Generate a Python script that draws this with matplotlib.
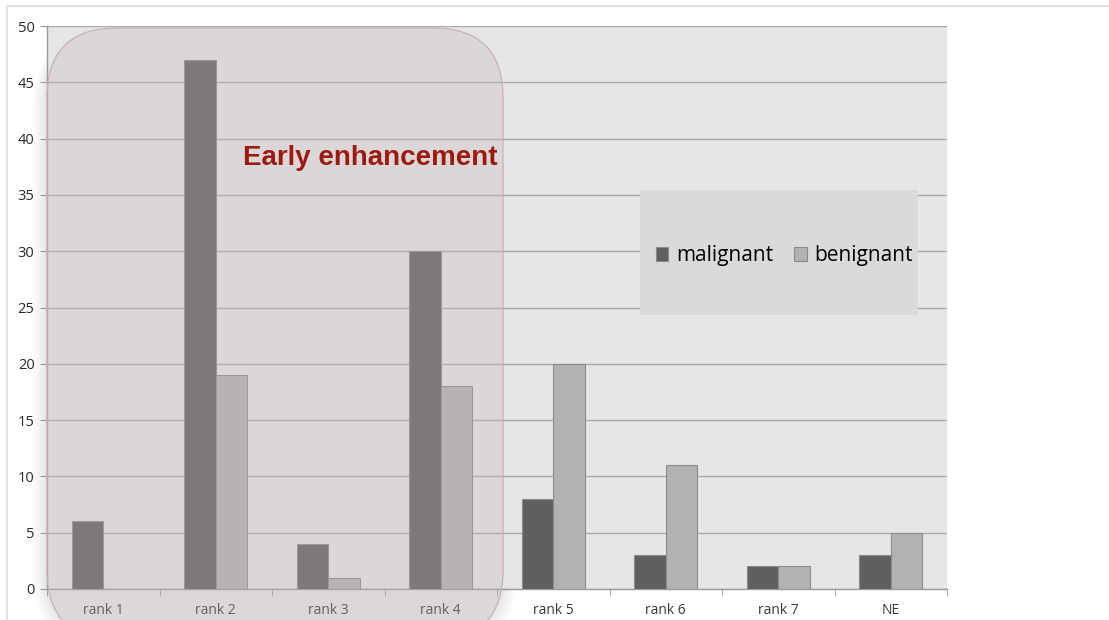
import numpy as np
import matplotlib.pyplot as plt
from matplotlib.patches import FancyBboxPatch, Rectangle

categories = ["rank 1", "rank 2", "rank 3", "rank 4", "rank 5", "rank 6", "rank 7", "NE"]
malignant = [6, 47, 4, 30, 8, 3, 2, 3]
benignant = [0, 19, 1, 18, 20, 11, 2, 5]

W, H = 1109, 620
fig = plt.figure(figsize=(W / 100, H / 100), dpi=100)
fig.patch.set_facecolor("white")
ax = fig.add_axes([47 / W, 1 - 589 / H, 900 / W, 563 / H])
ax.set_facecolor("#e6e6e6")

x = np.arange(len(categories))
bw = 0.28
ax.bar(x - bw / 2, malignant, bw, color="#5f5f5f", edgecolor="#8c8c8c", linewidth=0.8,
       label="malignant", zorder=3)
ax.bar(x + bw / 2, benignant, bw, color="#b2b2b2", edgecolor="#8c8c8c", linewidth=0.8,
       label="benignant", zorder=3)

ax.set_xlim(-0.5, len(categories) - 0.5)
ax.set_ylim(0, 50)
ax.set_yticks(np.arange(0, 51, 5))
ax.set_xticks(x)
ax.set_xticklabels(categories)
ax.set_xticks(np.arange(-0.5, len(categories), 1), minor=True)
ax.grid(axis="y", color="#ababab", linewidth=1, zorder=1)
ax.set_axisbelow(True)
for s in ["top", "right"]:
    ax.spines[s].set_visible(False)
for s in ["left", "bottom"]:
    ax.spines[s].set_color("#9a9a9a")
    ax.spines[s].set_linewidth(1)
ax.tick_params(axis="x", which="major", length=0, pad=10, labelsize=10, labelcolor="#3a3a3a")
ax.tick_params(axis="x", which="minor", length=5, color="#9a9a9a")
ax.tick_params(axis="y", length=5, color="#9a9a9a", pad=4, labelsize=10.5, labelcolor="#2a2a2a")
for lab in ax.get_xticklabels() + ax.get_yticklabels():
    lab.set_fontfamily("Open Sans")

# legend panel
ax.add_patch(Rectangle((640 / 100, (H - 315) / 100), 278 / 100, 125 / 100,
                       transform=fig.dpi_scale_trans, facecolor="#dadada", edgecolor="none",
                       zorder=4, clip_on=False))
leg = ax.legend(loc="center", bbox_to_anchor=(784 / 100, (H - 256) / 100),
                bbox_transform=fig.dpi_scale_trans, ncol=2, frameon=False,
                prop={"family": "Open Sans", "size": 15}, handlelength=0.62, handleheight=0.62,
                handletextpad=0.35, columnspacing=1.0)
leg.set_zorder(5)

# shaded "early enhancement" block; the glow sits behind the axes so it only shows on white
x0, y0, w, h, r = 0.47, (H - 640) / 100, 4.56, 6.12, 0.7
for pad in [0.14, 0.10, 0.06, 0.03]:
    fig.patches.append(FancyBboxPatch((x0 - pad, y0 - pad), w + 2 * pad, h + pad,
                                      boxstyle=f"round,pad=0,rounding_size={r + pad}",
                                      transform=fig.dpi_scale_trans, facecolor="#8a8a8a",
                                      edgecolor="none", alpha=0.05, zorder=-2))
ax.add_patch(FancyBboxPatch((x0, y0), w, h, boxstyle=f"round,pad=0,rounding_size={r}",
                            transform=fig.dpi_scale_trans, facecolor=(196 / 255, 183 / 255, 187 / 255),
                            alpha=0.3, edgecolor="none", zorder=7, clip_on=False))
ax.add_patch(FancyBboxPatch((x0, y0), w, h, boxstyle=f"round,pad=0,rounding_size={r}",
                            transform=fig.dpi_scale_trans, facecolor="none",
                            edgecolor="#c9b0b6", linewidth=0.9, zorder=8, clip_on=False))

fig.text(243 / W, 1 - 158 / H, "Early enhancement", fontsize=20, fontweight="bold",
         family="Liberation Sans", color="#9c1a10", ha="left", va="center", zorder=10)

# outer frame
fig.patches.append(Rectangle((7 / 100, -1), 12, (H - 6) / 100 + 1, transform=fig.dpi_scale_trans,
                             facecolor="none", edgecolor="#e2e2e2", linewidth=1.5, zorder=-3))

fig.savefig("out.png", dpi=100)
